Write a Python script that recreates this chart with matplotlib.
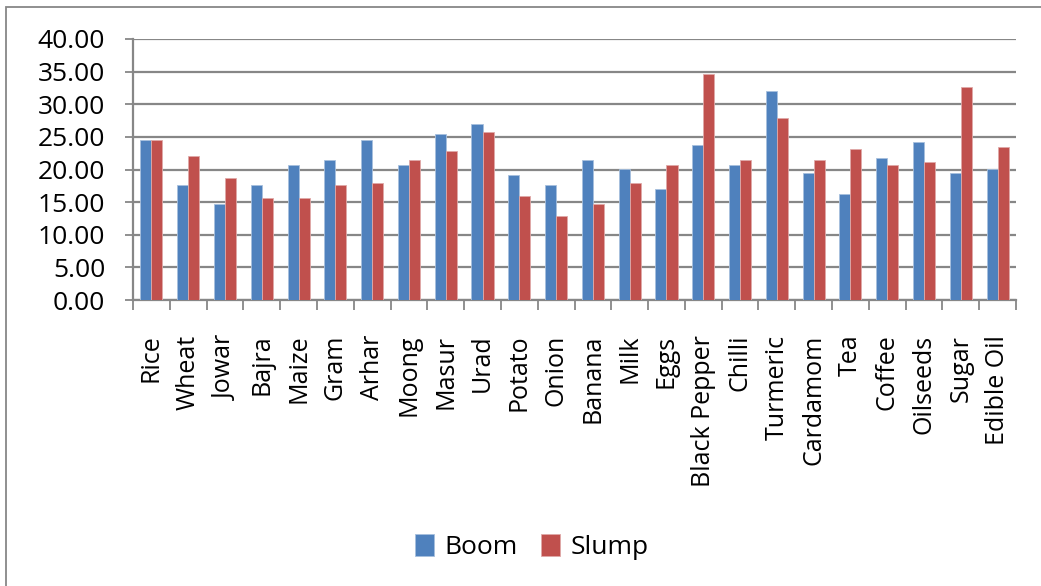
import matplotlib
matplotlib.use('Agg')
import matplotlib.pyplot as plt
import numpy as np

# Commodity groups and the two price-change series
CATEGORIES = ['Rice', 'Wheat', 'Jowar', 'Bajra', 'Maize', 'Gram', 'Arhar', 'Moong',
              'Masur', 'Urad', 'Potato', 'Onion', 'Banana', 'Milk', 'Eggs',
              'Black Pepper', 'Chilli', 'Turmeric', 'Cardamom', 'Tea', 'Coffee',
              'Oilseeds', 'Sugar', 'Edible Oil']
BOOM = [24.5, 17.7, 14.7, 17.7, 20.7, 21.5, 24.5, 20.7,
        25.5, 26.9, 19.1, 17.7, 21.5, 20.1, 17.0,
        23.8, 20.7, 32.0, 19.4, 16.3, 21.8,
        24.2, 19.4, 20.1]
SLUMP = [24.5, 22.1, 18.7, 15.6, 15.6, 17.7, 18.0, 21.5,
         22.8, 25.8, 16.0, 12.9, 14.7, 18.0, 20.7,
         34.7, 21.5, 27.9, 21.5, 23.1, 20.7,
         21.1, 32.6, 23.5]
SERIES = ['Boom', 'Slump']
YTICKS = [0, 5, 10, 15, 20, 25, 30, 35, 40]

BLUE = '#4F81BD'
RED = '#C0504D'
GRID = '#878787'

plt.rcParams['font.family'] = ['Open Sans', 'DejaVu Sans']

fig = plt.figure(figsize=(10.41, 5.86), dpi=100)
ax = fig.add_axes([133 / 1041, 1 - 300 / 586, (1016 - 133) / 1041, (300 - 39) / 586])

x = np.arange(len(CATEGORIES))
w = 0.3
b1 = ax.bar(x - w / 2, BOOM, w, color=BLUE, edgecolor='#A7C0DE', linewidth=0.6,
            label=SERIES[0], zorder=3)
b2 = ax.bar(x + w / 2, SLUMP, w, color=RED, edgecolor='#E0A9A8', linewidth=0.6,
            label=SERIES[1], zorder=3)

ax.set_xlim(-0.5, len(CATEGORIES) - 0.5)
ax.set_ylim(0, 40)
ax.set_yticks(YTICKS)
ax.set_yticklabels([f'{v:.2f}' for v in YTICKS], fontsize=19)
ax.yaxis.grid(True, color=GRID, linewidth=1.6, zorder=0)
ax.set_axisbelow(True)

# category labels at centres, tick marks on the boundaries
ax.set_xticks(x)
ax.set_xticklabels(CATEGORIES, rotation=90, fontsize=18, ha='center', va='top')
ax.tick_params(axis='x', which='major', length=0, pad=25)
ax.set_xticks(np.arange(-0.5, len(CATEGORIES), 1), minor=True)
ax.tick_params(axis='x', which='minor', length=7.5, width=1.3, color=GRID)
ax.tick_params(axis='y', length=6, width=1.3, color=GRID, pad=14)

for side in ['top', 'right']:
    ax.spines[side].set_visible(False)
for side in ['left', 'bottom']:
    ax.spines[side].set_color(GRID)
    ax.spines[side].set_linewidth(1.6)

fig.legend(handles=[b1, b2], labels=SERIES, loc='center',
           bbox_to_anchor=(532 / 1041, 1 - 547 / 586), ncol=2, frameon=False,
           fontsize=19, handlelength=0.7, handleheight=0.9, handletextpad=0.4,
           columnspacing=0.9)

# chart frame
fig.add_artist(plt.Rectangle((6 / 1041, -0.2), 1.2, 1.2 - 7 / 586, transform=fig.transFigure,
                             fill=False, edgecolor=GRID, linewidth=1.3))

fig.savefig('out.png', dpi=100)
